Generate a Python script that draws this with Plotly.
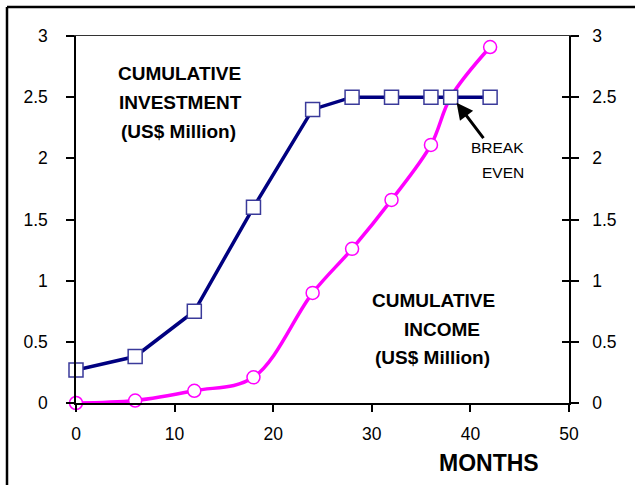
import plotly.graph_objects as go

months = [0, 6, 12, 18, 24, 28, 32, 36, 38, 42]
investment = [0.27, 0.38, 0.75, 1.6, 2.4, 2.5, 2.5, 2.5, 2.5, 2.5]
income_months = [0, 6, 12, 18, 24, 28, 32, 36, 38, 42]
income = [0.0, 0.02, 0.10, 0.21, 0.90, 1.26, 1.66, 2.11, 2.5, 2.91]
x_ticks = [0, 10, 20, 30, 40, 50]
y_ticks = [0, 0.5, 1, 1.5, 2, 2.5, 3]

W, H = 635, 485
L, R, T, B = 76, 66, 36, 82
pw, ph = W - L - R, H - T - B

def px(x):
    return (x - L) / pw

def py(y):
    return (H - B - y) / ph

FONT = "Arial, Liberation Sans, sans-serif"

fig = go.Figure()
fig.add_trace(go.Scatter(
    x=income_months, y=income, mode="lines+markers",
    line=dict(color="#FF00FF", width=3.5, shape="spline", smoothing=1.0),
    marker=dict(symbol="circle", size=13, color="white",
                line=dict(color="#FF00FF", width=1.5)),
    cliponaxis=False, showlegend=False))
fig.add_trace(go.Scatter(
    x=months, y=investment, mode="lines+markers",
    line=dict(color="#000080", width=3.5),
    marker=dict(symbol="square", size=14, color="white",
                line=dict(color="#3a3a9a", width=1.5)),
    cliponaxis=False, showlegend=False))
# dummy traces to anchor extra axes
fig.add_trace(go.Scatter(x=[None], y=[None], yaxis="y2", showlegend=False, hoverinfo="skip"))
fig.add_trace(go.Scatter(x=[None], y=[None], yaxis="y3", showlegend=False, hoverinfo="skip"))
fig.add_trace(go.Scatter(x=[None], y=[None], xaxis="x2", showlegend=False, hoverinfo="skip"))

axis_font = dict(family=FONT, size=17.5, color="black")

fig.update_layout(
    width=W, height=H,
    margin=dict(l=L, r=R, t=T, b=B),
    paper_bgcolor="white", plot_bgcolor="white",
    xaxis=dict(range=[0, 50], tickvals=x_ticks, showgrid=False, zeroline=False,
               showline=True, linecolor="black", linewidth=2,
               ticks="outside", ticklen=7, tickwidth=1.5, tickcolor="black",
               tickfont=axis_font, ticklabelstandoff=7),
    xaxis2=dict(range=[0, 50], overlaying="x", side="top", showgrid=False,
                zeroline=False, showline=True, linecolor="#333333", linewidth=1,
                ticks="", showticklabels=False),
    yaxis=dict(range=[0, 3], tickvals=y_ticks, showgrid=False, zeroline=False,
               showline=True, linecolor="black", linewidth=1.5,
               ticks="outside", ticklen=8, tickwidth=1.5, tickcolor="black",
               tickfont=axis_font, ticklabelstandoff=15),
    yaxis2=dict(range=[0, 3], tickvals=y_ticks, overlaying="y", side="right",
                showgrid=False, zeroline=False, showline=True, linecolor="black",
                linewidth=1.5, ticks="outside", ticklen=8, tickwidth=1.5,
                tickcolor="black", tickfont=axis_font, ticklabelstandoff=10),
    yaxis3=dict(range=[0, 3], tickvals=y_ticks, overlaying="y", side="right",
                showgrid=False, zeroline=False, showline=False, ticks="inside",
                ticklen=7, tickwidth=1.5, tickcolor="black", showticklabels=False),
)

shapes = [
    dict(type="line", xref="paper", yref="paper", x0=px(7), x1=px(700), y0=py(7), y1=py(7),
         line=dict(color="black", width=2.5)),
    dict(type="line", xref="paper", yref="paper", x0=px(7), x1=px(7), y0=py(7), y1=py(600),
         line=dict(color="black", width=2.5)),
]
fig.update_layout(shapes=shapes)

bold = dict(family=FONT, size=19, color="black")
labels = [
    ("<b>CUMULATIVE</b>", 179, 73.3, "center"),
    ("<b>INVESTMENT</b>", 180, 102.8, "center"),
    ("<b>(US$ Million)</b>", 178.5, 131, "center"),
    ("<b>CUMULATIVE</b>", 433, 300.7, "center"),
    ("<b>INCOME</b>", 441.7, 329, "center"),
    ("<b>(US$ Million)</b>", 432, 357, "center"),
]
annotations = []
for text, x, y, xa in labels:
    annotations.append(dict(text=text, x=px(x), y=py(y), xref="paper", yref="paper",
                            xanchor=xa, yanchor="middle", showarrow=False, font=bold))
reg = dict(family=FONT, size=15.5, color="black")
annotations.append(dict(text="BREAK", x=px(526), y=py(147.3), xref="paper", yref="paper",
                        xanchor="right", yanchor="middle", showarrow=False, font=reg))
annotations.append(dict(text="EVEN", x=px(526), y=py(172.3), xref="paper", yref="paper",
                        xanchor="right", yanchor="middle", showarrow=False, font=reg))
annotations.append(dict(text="<b>MONTHS</b>", x=px(488.5), y=py(462.7), xref="paper", yref="paper",
                        xanchor="center", yanchor="middle", showarrow=False,
                        font=dict(family=FONT, size=23, color="black")))
annotations.append(dict(text="", x=38.6, y=2.455, xref="x", yref="y", ax=28, ay=37,
                        showarrow=True, arrowhead=2, arrowsize=1.1, arrowwidth=3,
                        arrowcolor="black", standoff=0))
fig.update_layout(annotations=annotations)

fig.write_html("out.html")
